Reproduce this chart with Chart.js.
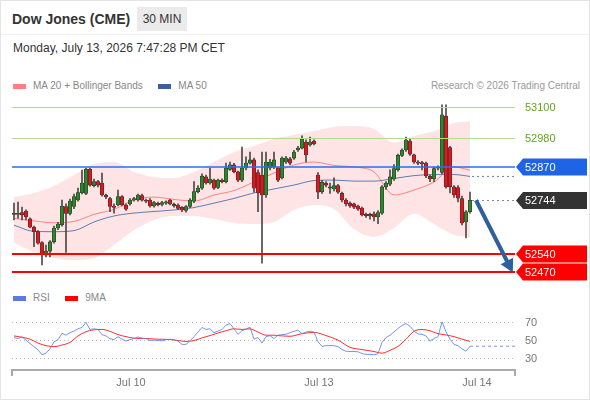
<!DOCTYPE html>
<html lang="en">
<head>
  <meta charset="UTF-8" />
  <title>Dow Jones (CME) 30 MIN</title>
  <script src="https://cdn.jsdelivr.net/npm/chart.js"></script>
  <style>
    body {
      margin: 0;
      background: #fff;
      font-family: 'Liberation Sans', Arial, sans-serif;
    }
    .wrap { position: relative; width: 590px; height: 400px; overflow: hidden; background: #fff; }
    .frame { position: absolute; left: 0; top: 0; right: 0; bottom: 0; border: 1px solid #e4e4e4; pointer-events: none; }
    .head { position: absolute; left: 0; top: 0; width: 590px; height: 34px; border-bottom: 1px solid #f1f1f1; }
    .title { position: absolute; left: 12px; top: 7px; line-height: 24px; font-size: 14px; font-weight: bold; color: #333; }
    .tf {
      position: absolute; left: 137px; top: 7px; width: 50px; height: 24px; line-height: 24px;
      background: #ebebeb; color: #333; font-size: 12px; text-align: center;
    }
    .date { position: absolute; left: 13px; top: 40px; line-height: 16px; font-size: 12px; color: #333; }
    .legend { position: absolute; left: 13px; font-size: 10px; color: #888; line-height: 12px; white-space: nowrap; }
    .legend span { display: inline-block; vertical-align: middle; }
    .legend .sw { width: 13px; height: 5px; margin-right: 7px; }
    .legend .gap { width: 10px; }
    .credit { position: absolute; right: 10px; top: 80px; line-height: 12px; font-size: 10px; color: #999; }
    canvas { position: absolute; left: 0; }
    #price { top: 90px; }
    #rsi { top: 295px; }
  </style>
</head>
<body>
  <div class="wrap">
    <div class="head">
      <div class="title">Dow Jones (CME)</div>
      <div class="tf">30 MIN</div>
    </div>
    <div class="date">Monday, July 13, 2026 7:47:28 PM CET</div>

    <div class="legend" style="top: 80px;">
      <span class="sw" style="background: #ff8080;"></span><span>MA 20 + Bollinger Bands</span>
      <span class="gap"></span>
      <span class="sw" style="background: #3a5f9f;"></span><span>MA 50</span>
    </div>
    <div class="credit">Research © 2026 Trading Central</div>

    <canvas id="price" width="590" height="200"></canvas>

    <div class="legend" style="top: 292px;">
      <span class="sw" style="background: #5b7ce0;"></span><span>RSI</span>
      <span class="gap"></span>
      <span class="sw" style="background: #ff0000;"></span><span>9MA</span>
    </div>

    <canvas id="rsi" width="590" height="100"></canvas>
    <div class="frame"></div>
  </div>

  <script>
    // 30 min candles, oldest first
    const opens = [
      52693, 52690, 52697, 52703, 52673, 52641, 52624, 52582, 52535, 52550,
      52585, 52638, 52650, 52720, 52694, 52720, 52745, 52773, 52770, 52862,
      52800, 52815, 52810, 52764, 52750, 52722, 52726, 52758, 52726, 52730,
      52745, 52745, 52762, 52744, 52745, 52722, 52732, 52728, 52733, 52745,
      52728, 52726, 52717, 52705, 52720, 52740, 52777, 52790, 52833, 52810,
      52821, 52793, 52821, 52815, 52862, 52879, 52852, 52821, 52867, 52886,
      52898, 52850, 52840, 52764, 52867, 52871, 52867, 52829, 52890, 52902,
      52905, 52936, 52943, 52966, 52955, 52970, 52840, 52776, 52810, 52795,
      52787, 52800, 52770, 52745, 52733, 52730, 52722, 52714, 52690, 52690,
      52692, 52680, 52695, 52795, 52805, 52825, 52860, 52915, 52936, 52970,
      52917, 52890, 52888, 52886, 52835, 52825, 52866, 52850, 53065, 52945,
      52795, 52792, 52750, 52661, 52700
    ];
    const highs = [
      52733, 52737, 52718, 52707, 52677, 52645, 52628, 52586, 52573, 52590,
      52645, 52660, 52745, 52730, 52748, 52768, 52790, 52859, 52866, 52866,
      52825, 52820, 52848, 52768, 52755, 52730, 52783, 52762, 52730, 52750,
      52755, 52768, 52768, 52748, 52750, 52740, 52737, 52740, 52742, 52748,
      52733, 52730, 52720, 52724, 52750, 52815, 52800, 52845, 52840, 52867,
      52825, 52825, 52826, 52886, 52890, 52885, 52855, 52947, 52910, 52928,
      52905, 52860, 52928, 52928, 52900, 52928, 52870, 52910, 52912, 52908,
      52935, 52950, 52990, 52975, 52985, 52975, 52850, 52820, 52815, 52810,
      52830, 52805, 52775, 52750, 52738, 52733, 52726, 52718, 52695, 52695,
      52700, 52705, 52800, 52815, 52860, 52880, 52920, 52940, 52985, 52980,
      52920, 52895, 52893, 52890, 52840, 52870, 52875, 53108, 53108, 52950,
      52800, 52800, 52760, 52705, 52775
    ];
    const lows = [
      52669, 52676, 52669, 52669, 52638, 52567, 52576, 52497, 52528, 52528,
      52580, 52632, 52645, 52545, 52688, 52712, 52740, 52768, 52765, 52798,
      52795, 52795, 52760, 52750, 52700, 52695, 52722, 52722, 52705, 52725,
      52740, 52740, 52740, 52735, 52718, 52718, 52722, 52722, 52728, 52726,
      52718, 52708, 52700, 52698, 52716, 52735, 52772, 52785, 52805, 52805,
      52785, 52788, 52810, 52810, 52858, 52848, 52815, 52815, 52860, 52882,
      52775, 52700, 52504, 52755, 52860, 52865, 52815, 52825, 52885, 52880,
      52900, 52930, 52940, 52890, 52950, 52955, 52750, 52770, 52795, 52770,
      52780, 52770, 52738, 52722, 52717, 52712, 52705, 52684, 52678, 52672,
      52665, 52655, 52690, 52785, 52800, 52820, 52855, 52910, 52930, 52915,
      52885, 52880, 52860, 52830, 52815, 52815, 52860, 52845, 52790, 52772,
      52755, 52738, 52650, 52600, 52695
    ];
    const closes = [
      52690, 52693, 52688, 52680, 52641, 52624, 52580, 52539, 52550, 52585,
      52638, 52653, 52722, 52694, 52741, 52758, 52773, 52810, 52862, 52802,
      52815, 52802, 52764, 52757, 52720, 52717, 52758, 52726, 52710, 52745,
      52750, 52764, 52744, 52740, 52722, 52735, 52727, 52735, 52738, 52730,
      52722, 52713, 52707, 52720, 52745, 52777, 52790, 52836, 52810, 52825,
      52790, 52821, 52815, 52867, 52879, 52852, 52821, 52867, 52886, 52898,
      52790, 52772, 52764, 52890, 52890, 52898, 52821, 52905, 52905, 52886,
      52928, 52943, 52978, 52917, 52966, 52959, 52775, 52813, 52802, 52790,
      52800, 52775, 52745, 52730, 52722, 52718, 52710, 52688, 52685, 52684,
      52680, 52697, 52795, 52810, 52833, 52865, 52915, 52935, 52974, 52920,
      52890, 52886, 52884, 52837, 52825, 52865, 52870, 53070, 52795, 52795,
      52764, 52752, 52657, 52700, 52744
    ];

    // moving averages and Bollinger bands, sampled every few candles
    const maIdx  = [0, 5, 10, 15, 20, 25, 30, 35, 40, 45, 50, 55, 60, 65, 70, 75, 80, 85, 90, 95, 100, 105, 110, 114];
    const ma20   = [52675, 52665, 52658, 52663, 52690, 52709, 52745, 52756, 52747, 52741, 52764, 52781, 52814, 52848, 52879, 52890, 52877, 52871, 52852, 52764, 52783, 52814, 52871, 52859];
    const ma50   = [52649, 52625, 52624, 52628, 52661, 52684, 52695, 52701, 52707, 52716, 52733, 52751, 52772, 52787, 52802, 52819, 52821, 52817, 52817, 52827, 52838, 52842, 52842, 52835];
    const bbUp   = [52756, 52772, 52798, 52840, 52882, 52890, 52852, 52833, 52829, 52852, 52890, 52928, 52951, 52978, 52993, 53008, 53024, 53027, 53016, 52963, 52989, 53008, 53039, 53045];
    const bbLow  = [52581, 52546, 52523, 52516, 52523, 52573, 52630, 52669, 52684, 52684, 52672, 52657, 52653, 52661, 52707, 52726, 52711, 52634, 52604, 52638, 52692, 52653, 52611, 52604];

    // support / resistance and last price
    const levelValues = [53100, 52980, 52870, 52744, 52540, 52470];
    const arrowFrom = [115.5, 52744];
    const arrowTo = [124.7, 52468];

    // RSI panel
    const rsi = [
      53.6, 52.5, 54.3, 50.7, 47.1, 43.5, 39.9, 34.5, 36.3, 41,
      48.9, 51.1, 58.3, 56.2, 59, 60.8, 63.3, 64.8, 70.5, 62.6,
      63.3, 62.6, 56.8, 55.4, 52.2, 51.4, 54.6, 51.8, 49.7, 51.4,
      52.5, 54.3, 52.9, 52.5, 50.3, 50.7, 50.3, 50, 51.1, 51.8,
      51.1, 49.7, 46, 46, 50, 54.6, 59.7, 64.8, 62.6, 63.3,
      59, 60.8, 62.6, 67.3, 69.1, 63.3, 57.2, 61.1, 63, 65.1,
      51.8, 53.6, 47.5, 54.6, 55.7, 52.5, 56.2, 56.8, 57.2, 59,
      60.5, 61.9, 57.9, 59.7, 60.5, 59.7, 48.9, 43.8, 44.6, 44.6,
      44.6, 43.5, 40.3, 38.4, 38.1, 38.1, 37.8, 35.9, 34.9, 34.9,
      34.5, 35.6, 48.2, 53.6, 56.2, 59.7, 63.7, 67, 69.1, 66.2,
      60.8, 57.6, 57.2, 55.4, 49.7, 52.5, 54.6, 71, 60, 51.8,
      46, 44.6, 41, 38.4, 44
    ];
    const rsiMaIdx  = [0, 2, 4, 6, 8, 10, 12, 14, 16, 18, 20, 22, 24, 26, 28, 30, 33, 36, 39, 41, 43, 45, 47, 49, 51, 53, 55, 57, 59, 61, 63, 65, 67, 69, 71, 72, 75, 78, 81, 84, 87, 90, 92, 94, 96, 98, 100, 102, 104, 106, 108, 110, 112, 114];
    const rsiMaVals = [55.4, 54, 51.8, 47.5, 44.6, 43.5, 45.3, 48.2, 55.4, 60.1, 62.2, 62.6, 60.5, 56.8, 54.6, 52.9, 52.5, 51.8, 51.4, 50.3, 49.3, 50.3, 53.2, 55.8, 58.7, 61.1, 63.3, 62.6, 63.3, 59.7, 56.2, 56.2, 55.4, 55, 56.8, 57.9, 59.3, 55.8, 50.7, 42.8, 40.3, 38.1, 36.3, 39.5, 43.8, 51.8, 60.5, 62.6, 61.1, 57.9, 56.5, 54.6, 51.8, 49.3];
    const rsiTicks = [30, 50, 70];

    // date ticks (candle index) and labels
    const xTickPos = [29.25, 76.25, 115.75];
    const xTickLabels = ['Jul 10', 'Jul 13', 'Jul 14'];

    const X_MIN = -0.5;
    const X_MAX = 125.25;
    const FONT = '"Liberation Sans", Arial, sans-serif';
    Chart.defaults.font.family = FONT;

    const lastIdx = closes.length - 1;
    const pts = (xs, ys) => xs.map((x, k) => ({ x: x, y: ys[k] }));

    const levelStyles = [
      { line: '#b5da8c', width: 1, text: '#62a41f' },
      { line: '#b5da8c', width: 1, text: '#62a41f' },
      { line: '#2a6cf5', width: 1.3, text: '#fff', box: '#1f63e6' },
      { line: '#888', width: 1, dash: [2, 3], text: '#fff', box: '#333', fromLast: true },
      { line: '#ff0000', width: 2, text: '#fff', box: '#ff0000' },
      { line: '#ff0000', width: 2, text: '#fff', box: '#ff0000' }
    ];

    const levelsPlugin = {
      id: 'levels',
      afterDatasetsDraw(chart) {
        const { ctx, chartArea: a, scales: { x, y } } = chart;
        ctx.save();
        levelValues.forEach((v, k) => {
          const st = levelStyles[k];
          const py = Math.round(y.getPixelForValue(v)) + (st.width === 1 ? 0.5 : 0);
          const x0 = st.fromLast ? x.getPixelForValue(lastIdx + 0.5) : a.left;
          ctx.strokeStyle = st.line;
          ctx.lineWidth = st.width;
          ctx.setLineDash(st.dash || []);
          ctx.beginPath();
          ctx.moveTo(x0, py);
          ctx.lineTo(a.right, py);
          ctx.stroke();
          ctx.setLineDash([]);

          if (st.box) {
            ctx.fillStyle = st.box;
            ctx.beginPath();
            ctx.moveTo(a.right + 1, py);
            ctx.lineTo(a.right + 8, py - 8.5);
            ctx.lineTo(a.right + 72, py - 8.5);
            ctx.lineTo(a.right + 72, py + 8.5);
            ctx.lineTo(a.right + 8, py + 8.5);
            ctx.closePath();
            ctx.fill();
          }
          ctx.fillStyle = st.text;
          ctx.font = '11px ' + FONT;
          ctx.textBaseline = 'middle';
          ctx.textAlign = 'left';
          ctx.fillText(String(v), a.right + 10, py + 0.5);
        });

        // forecast arrow
        const x1 = x.getPixelForValue(arrowFrom[0]), y1 = y.getPixelForValue(arrowFrom[1]);
        const x2 = x.getPixelForValue(arrowTo[0]), y2 = y.getPixelForValue(arrowTo[1]);
        const ang = Math.atan2(y2 - y1, x2 - x1);
        const head = 13;
        ctx.strokeStyle = '#2f5f9e';
        ctx.fillStyle = '#2f5f9e';
        ctx.lineWidth = 4;
        ctx.beginPath();
        ctx.moveTo(x1, y1);
        ctx.lineTo(x2 - Math.cos(ang) * head * 0.8, y2 - Math.sin(ang) * head * 0.8);
        ctx.stroke();
        ctx.beginPath();
        ctx.moveTo(x2, y2);
        ctx.lineTo(x2 - head * Math.cos(ang) + 7 * Math.sin(ang), y2 - head * Math.sin(ang) - 7 * Math.cos(ang));
        ctx.lineTo(x2 - head * Math.cos(ang) - 7 * Math.sin(ang), y2 - head * Math.sin(ang) + 7 * Math.cos(ang));
        ctx.closePath();
        ctx.fill();
        ctx.restore();
      }
    };

    new Chart(document.getElementById('price'), {
      type: 'bar',
      data: {
        datasets: [
          {
            type: 'line', data: pts(maIdx, bbUp), borderWidth: 0, pointRadius: 0,
            fill: '+1', backgroundColor: 'rgba(250, 150, 150, 0.26)',
            cubicInterpolationMode: 'monotone', order: 10
          },
          {
            type: 'line', data: pts(maIdx, bbLow), borderWidth: 0, pointRadius: 0,
            fill: false, cubicInterpolationMode: 'monotone', order: 10
          },
          {
            type: 'line', data: pts(maIdx, ma20), borderColor: 'rgba(255, 80, 80, 0.65)', borderWidth: 1,
            pointRadius: 0, fill: false, cubicInterpolationMode: 'monotone', order: 5
          },
          {
            type: 'line', data: pts(maIdx, ma50), borderColor: 'rgba(70, 105, 170, 0.85)', borderWidth: 1,
            pointRadius: 0, fill: false, cubicInterpolationMode: 'monotone', order: 5
          },
          {
            type: 'line', data: [{ x: lastIdx + 0.5, y: ma50[ma50.length - 1] }, { x: X_MAX, y: ma50[ma50.length - 1] }],
            borderColor: 'rgba(70, 105, 170, 0.85)', borderWidth: 1, borderDash: [2, 3],
            pointRadius: 0, fill: false, order: 5
          },
          {
            data: closes.map((c, i) => ({ x: i, y: [lows[i], highs[i]] })),
            backgroundColor: '#4a4a4a', barThickness: 1, grouped: false, order: 2
          },
          {
            data: closes.map((c, i) => ({ x: i, y: [opens[i], c] })),
            backgroundColor: closes.map((c, i) => c >= opens[i] ? '#2a8a2a' : '#e8141b'),
            borderColor: '#333', borderWidth: 0.6, borderSkipped: false,
            barThickness: 3.4, minBarLength: 1, grouped: false, order: 1
          }
        ]
      },
      options: {
        responsive: false,
        animation: false,
        layout: { padding: { left: 12, right: 75, top: 5, bottom: 10 } },
        plugins: { legend: { display: false }, tooltip: { enabled: false } },
        scales: {
          x: { type: 'linear', min: X_MIN, max: X_MAX, offset: false, display: false },
          y: { min: 52439.5, max: 53145.8, display: false }
        }
      },
      plugins: [levelsPlugin]
    });

    const axisCaps = {
      id: 'axisCaps',
      afterDraw(chart) {
        const { ctx, chartArea: a } = chart;
        ctx.save();
        ctx.strokeStyle = '#aaa';
        ctx.lineWidth = 2;
        ctx.beginPath();
        ctx.moveTo(a.left, a.bottom);
        ctx.lineTo(a.left, a.bottom + 6);
        ctx.moveTo(a.right, a.bottom);
        ctx.lineTo(a.right, a.bottom + 6);
        ctx.stroke();
        ctx.restore();
      }
    };

    new Chart(document.getElementById('rsi'), {
      type: 'line',
      data: {
        datasets: [
          {
            data: rsi.map((v, i) => ({ x: i, y: v })),
            borderColor: 'rgba(95, 130, 230, 0.85)', borderWidth: 1, pointRadius: 0, tension: 0
          },
          {
            data: [{ x: lastIdx, y: rsi[lastIdx] }, { x: X_MAX, y: rsi[lastIdx] }],
            borderColor: 'rgba(95, 130, 230, 0.85)', borderWidth: 1, borderDash: [3, 3], pointRadius: 0
          },
          {
            data: pts(rsiMaIdx, rsiMaVals),
            borderColor: '#ff3030', borderWidth: 1, pointRadius: 0, cubicInterpolationMode: 'monotone'
          }
        ]
      },
      options: {
        responsive: false,
        animation: false,
        layout: { padding: { left: 12, right: 0, top: 5, bottom: 0 } },
        plugins: { legend: { display: false }, tooltip: { enabled: false } },
        scales: {
          x: {
            type: 'linear', min: X_MIN, max: X_MAX, offset: false,
            afterBuildTicks: (s) => { s.ticks = xTickPos.map(v => ({ value: v })); },
            afterFit: (s) => { s.height = 25; },
            ticks: {
              callback: (v, k) => xTickLabels[k],
              color: '#777', font: { size: 11 }, padding: 6, maxRotation: 0, autoSkip: false
            },
            grid: { display: false, drawTicks: false },
            border: { display: true, color: '#aaa', width: 2 }
          },
          y: {
            position: 'right', min: 17.6, max: 82.4,
            afterBuildTicks: (s) => { s.ticks = rsiTicks.map(v => ({ value: v })); },
            afterFit: (s) => { s.width = 75; },
            ticks: { color: '#777', font: { size: 11 }, padding: 10 },
            grid: { color: '#bbb', drawTicks: false },
            border: { display: false, dash: [1, 3] }
          }
        }
      },
      plugins: [axisCaps]
    });
  </script>
</body>
</html>
